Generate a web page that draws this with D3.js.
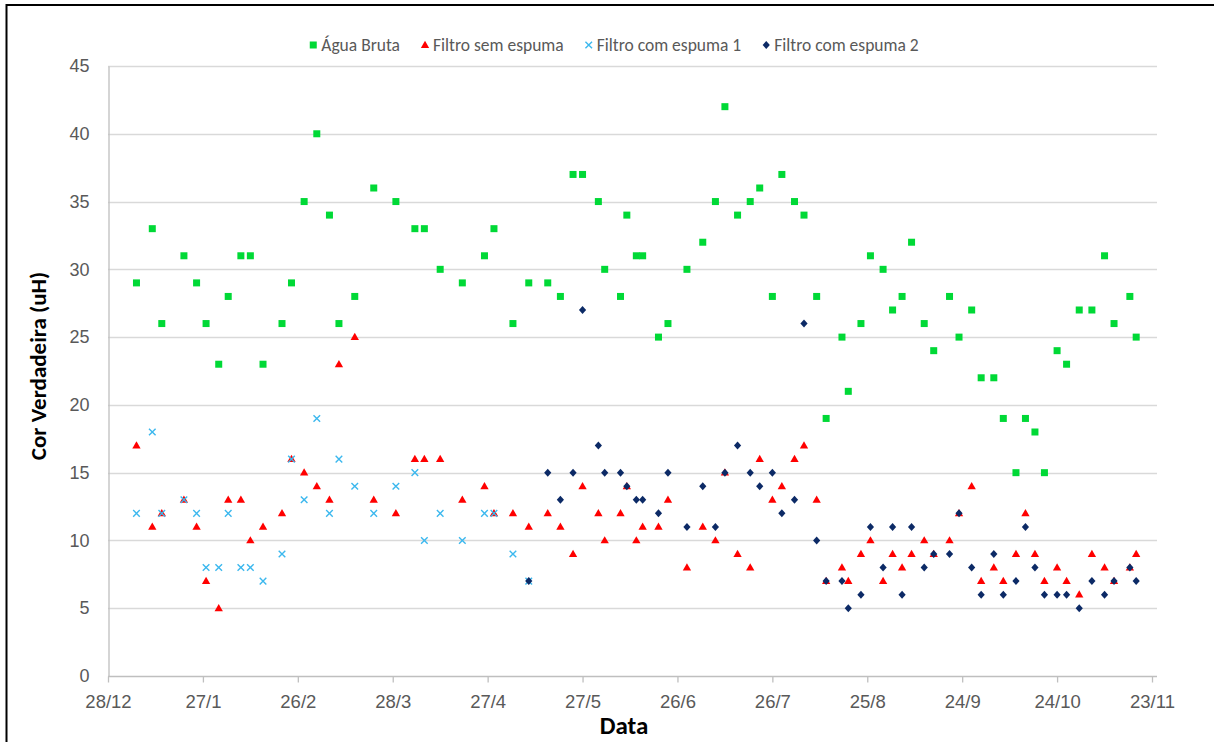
<!DOCTYPE html>
<html>
<head>
<meta charset="utf-8">
<script src="https://cdn.jsdelivr.net/npm/d3@7"></script>
<style>
  body{margin:0;background:#fff;}
  svg{display:block;font-family:Carlito,Calibri,Lato,sans-serif;}
  .tick text{fill:#595959;}
</style>
</head>
<body>
<script>
var width=1214,height=742;

// datas das coletas (ano base 2014)
var datas=["2014-01-06","2014-01-11","2014-01-14","2014-01-21","2014-01-25","2014-01-28",
  "2014-02-01","2014-02-04","2014-02-08","2014-02-11","2014-02-15","2014-02-21","2014-02-24","2014-02-28",
  "2014-03-04","2014-03-08","2014-03-11","2014-03-16","2014-03-22","2014-03-29",
  "2014-04-04","2014-04-07","2014-04-12","2014-04-19","2014-04-26","2014-04-29",
  "2014-05-05","2014-05-10","2014-05-16","2014-05-20","2014-05-24","2014-05-27",
  "2014-06-01","2014-06-03","2014-06-08","2014-06-10","2014-06-13","2014-06-15","2014-06-20","2014-06-23","2014-06-29",
  "2014-07-04","2014-07-08","2014-07-11","2014-07-15","2014-07-19","2014-07-22","2014-07-26","2014-07-29",
  "2014-08-02","2014-08-05","2014-08-09","2014-08-12","2014-08-17","2014-08-19","2014-08-23","2014-08-26","2014-08-30",
  "2014-09-02","2014-09-05","2014-09-08","2014-09-12","2014-09-15","2014-09-20","2014-09-23","2014-09-27","2014-09-30",
  "2014-10-04","2014-10-07","2014-10-11","2014-10-14","2014-10-17","2014-10-20","2014-10-24","2014-10-27","2014-10-31",
  "2014-11-04","2014-11-08","2014-11-11","2014-11-16","2014-11-18"];

var aguaBruta=[29,33,26,31,29,26,
  23,28,31,31,23,26,29,35,
  40,34,26,28,36,35,
  33,33,30,29,31,33,
  26,29,29,28,37,37,
  35,30,28,34,31,31,25,26,30,
  32,35,42,34,35,36,28,37,
  35,34,28,19,25,21,26,31,30,
  27,28,32,26,24,28,25,27,22,
  22,19,15,19,18,15,24,23,27,
  27,31,26,28,25];

var semEspuma=[17,11,12,13,11,7,
  5,13,13,10,11,12,16,15,
  14,13,23,25,13,12,
  16,16,16,13,14,12,
  12,11,12,11,9,14,
  12,10,12,14,10,11,11,13,8,
  11,10,15,9,8,16,13,14,
  16,17,13,7,8,7,9,10,7,
  9,8,9,10,9,10,12,14,7,
  8,7,9,12,9,7,8,7,6,
  9,8,7,8,9];

var comEspuma1=[12,18,12,13,12,8,
  8,12,8,8,7,9,16,13,
  19,12,16,14,12,14,
  15,10,12,10,12,12,
  9,7];

var comEspuma2=[null,null,null,null,null,null,
  null,null,null,null,null,null,null,null,
  null,null,null,null,null,null,
  null,null,null,null,null,null,
  null,7,15,13,15,27,
  17,15,15,14,13,13,12,15,11,
  14,11,15,17,15,14,15,12,
  13,26,10,7,7,5,6,11,8,
  11,6,11,8,9,9,12,8,6,
  9,6,7,11,8,6,6,6,5,
  7,6,7,8,7];

var nomes=["Água Bruta","Filtro sem espuma","Filtro com espuma 1","Filtro com espuma 2"];
var yTicks=[0,5,10,15,20,25,30,35,40,45];

var parse=d3.timeParse("%Y-%m-%d");
var inicio=parse("2013-12-28"),fim=parse("2014-11-23");

var svg=d3.select("body").append("svg")
    .attr("width",width)
    .attr("height",height);

// moldura do grafico (cortada na imagem)
svg.append("line").attr("x1",6).attr("x2",width).attr("y1",5).attr("y2",5)
   .attr("stroke","#000").attr("stroke-width",2);
svg.append("line").attr("x1",6.5).attr("x2",6.5).attr("y1",4).attr("y2",height)
   .attr("stroke","#000").attr("stroke-width",2);

var xScale=d3.scaleTime().domain([inicio,fim]).range([108,1152]);
var yScale=d3.scaleLinear().domain([0,45]).range([676,66]);
var xRight=1157;

// grade horizontal
svg.append("g").selectAll("line")
   .data(yTicks.slice(1))
   .enter().append("line")
   .attr("x1",108).attr("x2",xRight)
   .attr("y1",function(d){return Math.round(yScale(d))+0.5;})
   .attr("y2",function(d){return Math.round(yScale(d))+0.5;})
   .attr("stroke","#d9d9d9").attr("stroke-width",1.3);

// eixo y
var yAxis=d3.axisLeft(yScale).tickValues(yTicks).tickSize(0).tickPadding(19);
var gy=svg.append("g").attr("transform","translate(108.5,0)").call(yAxis);
gy.select(".domain").attr("stroke","#bfbfbf").attr("stroke-width",1.3);
gy.selectAll("text").attr("font-size",18);

// eixo x, marcas a cada 30 dias
var xTicks=d3.range(0,12).map(function(i){return d3.timeDay.offset(inicio,30*i);});
var xAxis=d3.axisBottom(xScale).tickValues(xTicks).tickSize(6).tickSizeOuter(0)
    .tickPadding(12).tickFormat(d3.timeFormat("%-d/%-m"));
var gx=svg.append("g").attr("transform","translate(0,676.5)").call(xAxis);
gx.select(".domain").attr("d","M108,0H"+xRight).attr("stroke","#bfbfbf").attr("stroke-width",1.3);
gx.selectAll(".tick line").attr("stroke","#bfbfbf").attr("stroke-width",1.3);
gx.selectAll("text").attr("font-size",18.5);

// titulos dos eixos
svg.append("text")
   .attr("transform","translate(46,366) rotate(-90)")
   .attr("text-anchor","middle")
   .attr("font-weight","bold").attr("font-size",23)
   .attr("fill","#000")
   .text("Cor Verdadeira (uH)");
svg.append("text")
   .attr("x",624).attr("y",734)
   .attr("text-anchor","middle")
   .attr("font-weight","bold").attr("font-size",25)
   .attr("fill","#000")
   .text("Data");

function pontos(valores){
  var out=[];
  valores.forEach(function(v,i){
    if(v!=null)out.push({data:parse(datas[i]),valor:v});
  });
  return out;
}

var cores=["#00d936","#ff0000","#3cb8ee","#0c2a66"];
var tri=d3.symbol().type(d3.symbolTriangle).size(30)();
var diamante="M0,-4L3.6,0L0,4L-3.6,0Z";
var cruz="M-3.3,-3.3L3.3,3.3M-3.3,3.3L3.3,-3.3";

function desenha(g,tipo,cor){
  if(tipo==0){
    g.append("rect").attr("x",-3.5).attr("y",-3.5).attr("width",7).attr("height",7).attr("fill",cor);
  }else if(tipo==1){
    g.append("path").attr("d",tri).attr("fill",cor).attr("transform","translate(0,0.5)");
  }else if(tipo==2){
    g.append("path").attr("d",cruz).attr("stroke",cor).attr("stroke-width",1.4).attr("fill","none");
  }else{
    g.append("path").attr("d",diamante).attr("fill",cor);
  }
}

[aguaBruta,semEspuma,comEspuma1,comEspuma2].forEach(function(serie,k){
  svg.append("g").selectAll("g")
     .data(pontos(serie))
     .enter().append("g")
     .attr("transform",function(d){return "translate("+xScale(d.data)+","+yScale(d.valor)+")";})
     .each(function(){desenha(d3.select(this),k,cores[k]);});
});

// legenda
var leg=svg.append("g");
var px=0,gap=25;
nomes.forEach(function(n,k){
  var item=leg.append("g").attr("transform","translate("+px+",0)");
  desenha(item.append("g"),k,cores[k]);
  var t=item.append("text").attr("x",8).attr("y",5.5).attr("font-size",17.5)
      .attr("fill","#595959").text(n);
  px+=8+t.node().getComputedTextLength()+gap;
});
leg.attr("transform","translate("+(612-(px-gap)/2+4)+",45)");
</script>
</body>
</html>
